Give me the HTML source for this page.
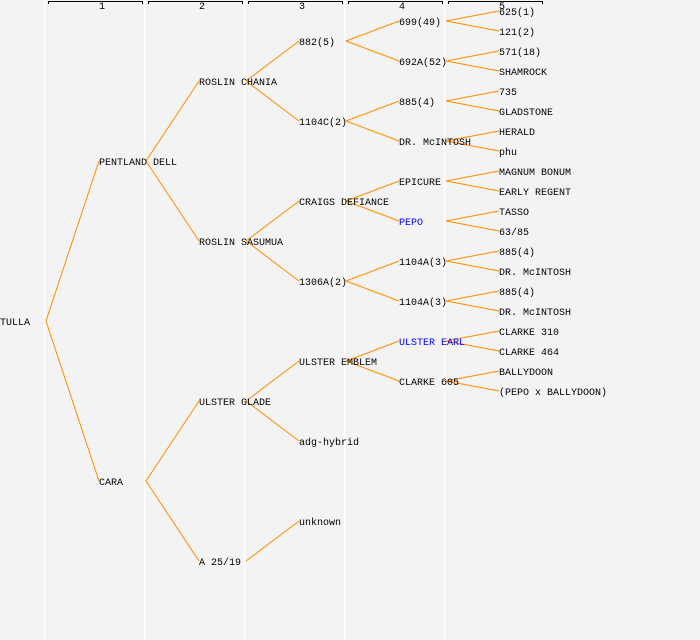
<!DOCTYPE html>
<html><head><meta charset="utf-8"><style>
html,body{margin:0;padding:0;background:#f3f3f3;}
svg{display:block}
text{font-family:"Liberation Mono","DejaVu Sans Mono",monospace;font-size:10px;fill:#000}
</style></head><body>
<svg width="700" height="640" viewBox="0 0 700 640" xmlns="http://www.w3.org/2000/svg">
<rect width="700" height="640" fill="#f3f3f3"/>
<g stroke="#ffffff" stroke-width="1.5">
<line x1="44.5" y1="0" x2="44.5" y2="640"/><line x1="144.5" y1="0" x2="144.5" y2="640"/>
<line x1="244.5" y1="0" x2="244.5" y2="640"/><line x1="344.5" y1="0" x2="344.5" y2="640"/>
<line x1="444.5" y1="0" x2="444.5" y2="640"/>
</g>
<g stroke="#000" stroke-width="1" fill="none">
<path d="M48.5 4V1.5H142.5V4"/><path d="M148.5 4V1.5H242.5V4"/><path d="M248.5 4V1.5H342.5V4"/><path d="M348.5 4V1.5H442.5V4"/><path d="M448.5 4V1.5H542.5V4"/>
</g>
<g style="font-size:8px" text-anchor="middle">
<text x="102" y="9">1</text><text x="202" y="9">2</text><text x="302" y="9">3</text><text x="402" y="9">4</text><text x="502" y="9">5</text>
</g>
<g stroke="#ff8c00" stroke-width="1" fill="none">
<line x1="46" y1="321" x2="99" y2="161"/><line x1="46" y1="321" x2="99" y2="481"/>
<line x1="146" y1="161" x2="199" y2="81"/><line x1="146" y1="161" x2="199" y2="241"/>
<line x1="146" y1="481" x2="199" y2="401"/><line x1="146" y1="481" x2="199" y2="561"/>
<line x1="246" y1="81" x2="299" y2="41"/><line x1="246" y1="81" x2="299" y2="121"/>
<line x1="246" y1="241" x2="299" y2="201"/><line x1="246" y1="241" x2="299" y2="281"/>
<line x1="246" y1="401" x2="299" y2="361"/><line x1="246" y1="401" x2="299" y2="441"/>
<line x1="246" y1="561" x2="299" y2="521"/>
<line x1="346" y1="41" x2="399" y2="21"/><line x1="346" y1="41" x2="399" y2="61"/>
<line x1="346" y1="121" x2="399" y2="101"/><line x1="346" y1="121" x2="399" y2="141"/>
<line x1="346" y1="201" x2="399" y2="181"/><line x1="346" y1="201" x2="399" y2="221"/>
<line x1="346" y1="281" x2="399" y2="261"/><line x1="346" y1="281" x2="399" y2="301"/>
<line x1="346" y1="361" x2="399" y2="341"/><line x1="346" y1="361" x2="399" y2="381"/>
<line x1="446" y1="21" x2="499" y2="11"/><line x1="446" y1="21" x2="499" y2="31"/>
<line x1="446" y1="61" x2="499" y2="51"/><line x1="446" y1="61" x2="499" y2="71"/>
<line x1="446" y1="101" x2="499" y2="91"/><line x1="446" y1="101" x2="499" y2="111"/>
<line x1="446" y1="141" x2="499" y2="131"/><line x1="446" y1="141" x2="499" y2="151"/>
<line x1="446" y1="181" x2="499" y2="171"/><line x1="446" y1="181" x2="499" y2="191"/>
<line x1="446" y1="221" x2="499" y2="211"/><line x1="446" y1="221" x2="499" y2="231"/>
<line x1="446" y1="261" x2="499" y2="251"/><line x1="446" y1="261" x2="499" y2="271"/>
<line x1="446" y1="301" x2="499" y2="291"/><line x1="446" y1="301" x2="499" y2="311"/>
<line x1="446" y1="341" x2="499" y2="331"/><line x1="446" y1="341" x2="499" y2="351"/>
<line x1="446" y1="381" x2="499" y2="371"/><line x1="446" y1="381" x2="499" y2="391"/>
</g>
<g transform="translate(0,-1)">
<text x="0" y="326">TULLA</text>
<text x="99" y="166">PENTLAND DELL</text><text x="99" y="486">CARA</text>
<text x="199" y="86">ROSLIN CHANIA</text><text x="199" y="246">ROSLIN SASUMUA</text>
<text x="199" y="406">ULSTER GLADE</text><text x="199" y="566">A 25/19</text>
<text x="299" y="46">882(5)</text><text x="299" y="126">1104C(2)</text>
<text x="299" y="206">CRAIGS DEFIANCE</text><text x="299" y="286">1306A(2)</text>
<text x="299" y="366">ULSTER EMBLEM</text><text x="299" y="446">adg-hybrid</text>
<text x="299" y="526">unknown</text>
<text x="399" y="26">699(49)</text><text x="399" y="66">692A(52)</text>
<text x="399" y="106">885(4)</text><text x="399" y="146">DR. McINTOSH</text>
<text x="399" y="186">EPICURE</text><text x="399" y="226" style="fill:#0000ff">PEPO</text>
<text x="399" y="266">1104A(3)</text><text x="399" y="306">1104A(3)</text>
<text x="399" y="346" style="fill:#0000ff">ULSTER EARL</text><text x="399" y="386">CLARKE 605</text>
<text x="499" y="16">625(1)</text><text x="499" y="36">121(2)</text>
<text x="499" y="56">571(18)</text><text x="499" y="76">SHAMROCK</text>
<text x="499" y="96">735</text><text x="499" y="116">GLADSTONE</text>
<text x="499" y="136">HERALD</text><text x="499" y="156">phu</text>
<text x="499" y="176">MAGNUM BONUM</text><text x="499" y="196">EARLY REGENT</text>
<text x="499" y="216">TASSO</text><text x="499" y="236">63/85</text>
<text x="499" y="256">885(4)</text><text x="499" y="276">DR. McINTOSH</text>
<text x="499" y="296">885(4)</text><text x="499" y="316">DR. McINTOSH</text>
<text x="499" y="336">CLARKE 310</text><text x="499" y="356">CLARKE 464</text>
<text x="499" y="376">BALLYDOON</text><text x="499" y="396">(PEPO x BALLYDOON)</text>
</g>
</svg>
</body></html>
